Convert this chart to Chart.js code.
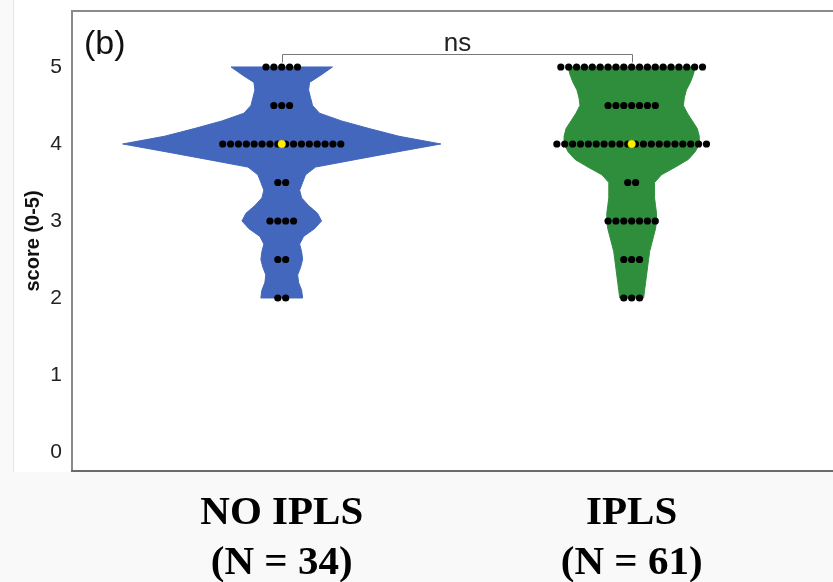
<!DOCTYPE html>
<html>
<head>
<meta charset="utf-8">
<script src="https://cdn.jsdelivr.net/npm/chart.js"></script>
<style>
  html, body { margin: 0; padding: 0; background: #f9f9f9; }
  #wrap { width: 833px; height: 582px; position: relative; }
</style>
</head>
<body>
<div id="wrap"><canvas id="myChart" width="833" height="582"></canvas></div>
<script>
// categories + counts
const groups = ['NO IPLS', 'IPLS'];
const groupN = ['(N = 34)', '(N = 61)'];
const groupPos = [1, 2];
const scoreLevels = [2, 2.5, 3, 3.5, 4, 4.5, 5];
const countsNoIpls = [2, 2, 4, 2, 16, 3, 5];
const countsIpls = [3, 3, 7, 2, 20, 7, 19];
const medians = [4, 4];
const yTicks = [0, 1, 2, 3, 4, 5];

// violin half widths (relative density) at each score level
const densityLevels = [2.0, 2.1, 2.2, 2.3, 2.4, 2.5, 2.6, 2.7, 2.8, 2.9, 3.0,
  3.1, 3.2, 3.3, 3.4, 3.5, 3.6, 3.7, 3.8, 3.9, 4.0,
  4.1, 4.2, 4.3, 4.4, 4.5, 4.6, 4.7, 4.8, 4.9, 5.0];
const densityNoIpls = [21, 20, 17, 16, 19, 21, 20, 18, 22, 33, 40,
  36, 27, 20, 18, 21, 24, 34, 75, 117, 160,
  118, 88, 60, 38, 31, 29, 27, 28, 40, 51];
const densityIpls = [12, 13, 14, 15, 16, 17, 18, 20, 22, 24, 25,
  25, 24, 23, 23, 23, 30, 44, 57, 64, 68,
  68, 66, 61, 56, 52, 53, 55, 59, 62, 64];

const violinScale = 1 / 352;   // density unit -> x axis units
const DOT_STEP = 0.0225;       // spacing between stacked dots (x units)

function dotPoints(pos, counts) {
  const pts = [];
  scoreLevels.forEach((lv, i) => {
    const n = counts[i];
    for (let k = 0; k < n; k++) {
      pts.push({ x: pos + (k - (n - 1) / 2) * DOT_STEP, y: lv });
    }
  });
  return pts;
}

const violins = [
  { pos: groupPos[0], dens: densityNoIpls, color: '#4367BD' },
  { pos: groupPos[1], dens: densityIpls, color: '#2F8E3B' }
];

const backgroundPlugin = {
  id: 'bg',
  beforeDraw(chart) {
    const { ctx, chartArea } = chart;
    ctx.save();
    ctx.fillStyle = '#f9f9f9';
    ctx.fillRect(0, 0, chart.width, chart.height);
    ctx.fillStyle = '#ffffff';
    ctx.fillRect(13, 0, chart.width - 13, chartArea.bottom + 2);
    ctx.strokeStyle = '#e6e6e6';
    ctx.lineWidth = 1;
    ctx.beginPath();
    ctx.moveTo(13.5, 0);
    ctx.lineTo(13.5, chartArea.bottom + 2);
    ctx.stroke();
    ctx.restore();
  }
};

const violinPlugin = {
  id: 'violin',
  beforeDatasetsDraw(chart) {
    const { ctx, chartArea, scales: { x, y } } = chart;
    ctx.save();
    // frame
    ctx.strokeStyle = '#8a8a8a';
    ctx.lineWidth = 2;
    ctx.beginPath();
    ctx.moveTo(chart.width, chartArea.top - 1);
    ctx.lineTo(chartArea.left, chartArea.top - 1);
    ctx.lineTo(chartArea.left, chartArea.bottom);
    ctx.stroke();
    ctx.strokeStyle = '#6a6a6a';
    ctx.beginPath();
    ctx.moveTo(chartArea.left - 1, chartArea.bottom + 1);
    ctx.lineTo(chart.width, chartArea.bottom + 1);
    ctx.stroke();

    violins.forEach(v => {
      const right = densityLevels.map((lv, i) =>
        [x.getPixelForValue(v.pos + v.dens[i] * violinScale), y.getPixelForValue(lv)]);
      const left = densityLevels.map((lv, i) =>
        [x.getPixelForValue(v.pos - v.dens[i] * violinScale), y.getPixelForValue(lv)]).reverse();
      const pts = right.concat(left);
      ctx.beginPath();
      pts.forEach((p, i) => i ? ctx.lineTo(p[0], p[1]) : ctx.moveTo(p[0], p[1]));
      ctx.closePath();
      ctx.fillStyle = v.color;
      ctx.fill();
      ctx.lineWidth = 1;
      ctx.strokeStyle = v.color;
      ctx.stroke();
    });
    ctx.restore();
  },
  afterDatasetsDraw(chart) {
    const { ctx, chartArea, scales: { x, y } } = chart;
    ctx.save();
    // significance bracket
    const x1 = Math.round(x.getPixelForValue(groupPos[0])) + 0.5;
    const x2 = Math.round(x.getPixelForValue(groupPos[1])) + 0.5;
    const yb = Math.round(y.getPixelForValue(5.17)) + 0.5;
    const yt = y.getPixelForValue(5.06);
    ctx.strokeStyle = '#777';
    ctx.lineWidth = 1;
    ctx.beginPath();
    ctx.moveTo(x1, yt);
    ctx.lineTo(x1, yb);
    ctx.lineTo(x2, yb);
    ctx.lineTo(x2, yt);
    ctx.stroke();
    ctx.fillStyle = '#222';
    ctx.font = '26px "Liberation Sans", Arial, sans-serif';
    ctx.textAlign = 'center';
    ctx.textBaseline = 'alphabetic';
    ctx.fillText('ns', (x1 + x2) / 2, yb - 4);
    // panel letter
    ctx.fillStyle = '#111';
    ctx.textAlign = 'left';
    ctx.textBaseline = 'middle';
    ctx.font = '34px "Liberation Sans", Arial, sans-serif';
    ctx.fillText('(b)', chartArea.left + 12, chartArea.top + 33);
    ctx.restore();
  }
};

const ctx = document.getElementById('myChart');

new Chart(ctx, {
  type: 'scatter',
  data: {
    datasets: [
      {
        label: 'median',
        data: groupPos.map((p, i) => ({ x: p, y: medians[i] })),
        backgroundColor: '#FFEE00',
        borderColor: '#F5D800',
        borderWidth: 0.5,
        pointRadius: 3.8
      },
      {
        label: groups[0],
        data: dotPoints(groupPos[0], countsNoIpls),
        backgroundColor: '#000',
        borderWidth: 0,
        pointRadius: 3.6
      },
      {
        label: groups[1],
        data: dotPoints(groupPos[1], countsIpls),
        backgroundColor: '#000',
        borderWidth: 0,
        pointRadius: 3.6
      }
    ]
  },
  options: {
    responsive: false,
    animation: false,
    layout: { padding: { top: 12, left: 0, right: 0, bottom: 0 } },
    plugins: {
      legend: { display: false },
      tooltip: { enabled: false }
    },
    scales: {
      x: {
        type: 'linear',
        min: 0.4006,
        max: 2.5625,
        afterBuildTicks: s => { s.ticks = groupPos.map(v => ({ value: v })); },
        afterFit: s => { s.height = 112; s.paddingLeft = 0; s.paddingRight = 0; },
        grid: { display: false, drawTicks: false },
        border: { display: false },
        ticks: {
          autoSkip: false,
          maxRotation: 0,
          padding: 18,
          color: '#000',
          font: { family: '"Liberation Serif", "Times New Roman", serif', size: 41, weight: 'bold', lineHeight: 1.22 },
          callback: (val, i) => [groups[i], groupN[i]]
        }
      },
      y: {
        type: 'linear',
        min: -0.234,
        max: 5.714,
        afterBuildTicks: s => { s.ticks = yTicks.map(v => ({ value: v })); },
        afterFit: s => { s.width = 72; s.paddingTop = 0; s.paddingBottom = 0; },
        grid: { display: false, drawTicks: false },
        border: { display: false },
        ticks: {
          padding: 10,
          color: '#222',
          font: { family: '"Liberation Sans", Arial, sans-serif', size: 21 }
        },
        title: {
          display: true,
          text: 'score (0-5)',
          color: '#111',
          padding: { top: 21, bottom: 0 },
          font: { family: '"Liberation Sans", Arial, sans-serif', size: 20, weight: 'bold' }
        }
      }
    }
  },
  plugins: [backgroundPlugin, violinPlugin]
});
</script>
</body>
</html>
